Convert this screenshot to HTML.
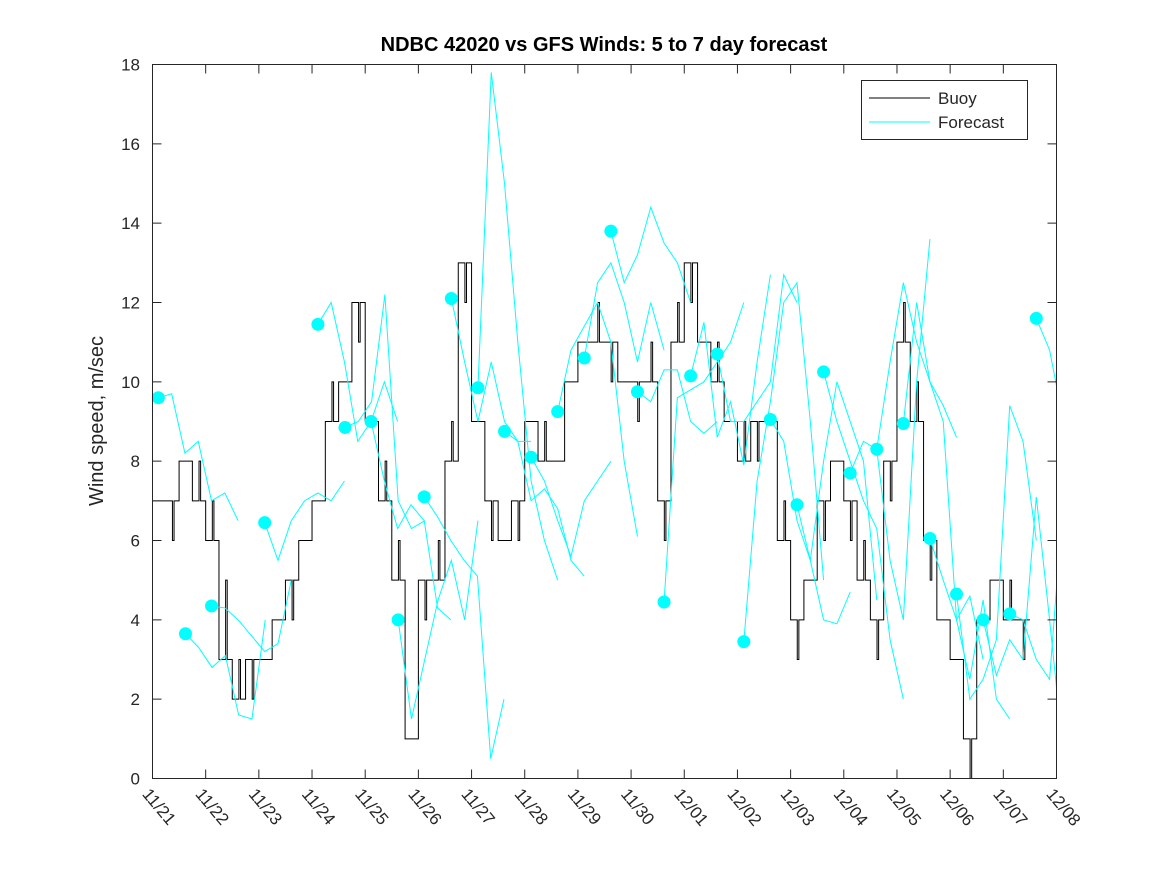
<!DOCTYPE html>
<html><head><meta charset="utf-8"><style>
body{margin:0;background:#fff;}
svg text{font-family:"Liberation Sans","DejaVu Sans",sans-serif;fill:#262626;}
</style></head><body>
<svg id="chart" width="1167" height="875" xmlns="http://www.w3.org/2000/svg">
<rect width="1167" height="875" fill="#fff"/>
<text x="604" y="51" text-anchor="middle" font-size="20" font-weight="bold" style="fill:#000">NDBC 42020 vs GFS Winds: 5 to 7 day forecast</text>
<text transform="translate(103,421) rotate(-90)" text-anchor="middle" font-size="20">Wind speed, m/sec</text>
<g id="series"></g>
<rect x="152.5" y="64.5" width="904" height="714" fill="none" stroke="#262626" stroke-width="1"/>
<g id="axes"></g>
<g>
<rect x="861.5" y="80.5" width="166" height="59" fill="#fff" stroke="#262626"/>
<line x1="869" y1="98" x2="930" y2="98" stroke="#000"/>
<text x="938" y="104" font-size="17">Buoy</text>
<line x1="869" y1="122" x2="930" y2="122" stroke="#00ffff"/>
<text x="938" y="128" font-size="17">Forecast</text>
</g>
</svg>
<script>
const xTickLabels=["11/21","11/22","11/23","11/24","11/25","11/26","11/27","11/28","11/29","11/30","12/01","12/02","12/03","12/04","12/05","12/06","12/07","12/08"];
const yTicks=[0,2,4,6,8,10,12,14,16,18];
const buoyStep=0.25;
const buoyValues=[7,7,8,7,6,3,2,3,3,4,5,6,7,9,10,12,9,7,5,1,5,5,8,13,9,7,6,7,9,8,8,10,11,11,11,10,10,10,7,11,13,11,10,9,8,9,9,6,4,5,7,8,7,5,4,8,11,9,6,4,3,1,4,5,4,4];
const buoyNoise=[7,6,8,8,7,5,3,2,3,4,4,6,7,10,10,11,9,8,6,1,4,6,9,12,9,6,6,6,9,9,8,10,11,12,10,10,9,11,6,12,12,11,11,9,9,8,9,7,3,5,6,8,6,6,3,7,12,10,5,4,3,0,4,5,5,3];
const fcStarts=[0.11,0.62,1.11,2.11,3.11,3.62,4.11,4.62,5.11,5.62,6.12,6.62,7.12,7.62,8.12,8.62,9.12,9.62,10.12,10.62,11.12,11.62,12.12,12.62,13.12,13.62,14.12,14.62,15.12,15.62,16.12,16.62];
const fcStep=0.25;
const fcValues=[
[9.6,9.7,8.2,8.5,7,7.2,6.5],
[3.65,3.3,2.8,3.1,1.6,1.5,4],
[4.35,4.3,4,3.6,3.2,3.4,5],
[6.45,5.5,6.5,7,7.2,7.0,7.5],
[11.45,12,10.5,8.5,9,10,9],
[8.85,9,9.5,12.2,7,6.3,6.5],
[9.0,7.5,6.3,6.9,6.5,4.3,4.0],
[4.0,1.5,3,4.5,5.5,4.0,6.5],
[7.1,6.6,6,5.5,5.1,0.5,2],
[12.1,10.5,9,10.5,9,8.5,8.5],
[9.85,17.8,15,11,7.5,6,5],
[8.75,8.5,7,7.3,6.8,5.5,5.1],
[8.1,7.5,6.5,5.6,7,7.5,8],
[9.25,10.8,11.4,12,11,8,6.1],
[10.6,12.5,13,12,10.5,12,10.8],
[13.8,12.5,13.2,14.4,13.5,13.0,12],
[9.75,9.5,10.3,10.3,9,8.7,9],
[4.45,9.6,9.8,10,10.5,11,12],
[10.15,11.5,8.6,9.5,7.9,10.5,12.7],
[10.7,9,9,9.5,10,12.7,12],
[3.45,7.5,9.5,12,12.5,9,5],
[9.05,8.5,6.5,5.5,4,3.9,4.7],
[6.9,5.5,8,10,9,8,4.5],
[10.25,9,8,7,6.3,3.5,2],
[7.7,8.5,8.3,5.5,4,10,13.6],
[8.3,10.5,12.5,11,10,9.4,8.6],
[8.95,12,10,9,4,4.6,3],
[6.05,5,4,2.5,4.5,2,1.5],
[4.65,2,2.5,3.5,9.4,8.5,6],
[4.0,2.6,3.5,3.0,7.1,4,2.3],
[4.15,4,3,2.5,4.8,5.3,5.4],
[11.6,10.8,9.9,11.8]
];
const X0=152.5,X1=1056.5,Y0=778.5,Y1=64.5,NS="http://www.w3.org/2000/svg";
const xs=d=>X0+d*(X1-X0)/17;
const ys=v=>Y0-v*(Y0-Y1)/18;
function mk(t,a,p){const e=document.createElementNS(NS,t);for(const k in a)e.setAttribute(k,a[k]);p.appendChild(e);return e;}
const axes=document.getElementById('axes'),ser=document.getElementById('series');
yTicks.forEach(v=>{
 const l=mk('path',{d:`M${X0},${ys(v)}h9M${X1},${ys(v)}h-9`,stroke:'#262626'},axes);
 
 
 const t=mk('text',{x:140,y:ys(v)+6,'text-anchor':'end','font-size':17},axes);
 t.textContent=v;
 
 
});
xTickLabels.forEach((s,i)=>{
 const x=xs(i);
 const l=mk('path',{d:`M${x},${Y0}v-9M${x},${Y1}v9`,stroke:'#262626'},axes);
 
 
 const t=mk('text',{transform:`translate(${x-11},${Y0+16}) rotate(50)`,'font-size':17},axes);
 t.textContent=s;
 
 
});
let d='';
buoyValues.forEach((v,i)=>{
 const a=i*buoyStep,b=a+buoyStep/2;
 const n=buoyNoise[i];
 d+=(i?'L':'M')+xs(a)+','+ys(v)+'H'+xs(b)+'V'+ys(n)+'H'+xs(b+0.03)+'V'+ys(v)+'H'+xs(a+buoyStep);
});
const bl=mk('path',{d:d,fill:'none',stroke:'#000','stroke-width':1},ser);


fcValues.forEach((vals,k)=>{
 const s=fcStarts[k];
 const pts=vals.map((v,j)=>[Math.min(xs(s+j*fcStep),X1),ys(v)]);
 const p=mk('polyline',{points:pts.map(q=>q.join(',')).join(' '),fill:'none',stroke:'#00ffff','stroke-width':1},ser);
 
 
});
fcValues.forEach((vals,k)=>{
 const c=mk('circle',{cx:xs(fcStarts[k]),cy:ys(vals[0]),r:6.5,fill:'#00ffff'},ser);
 
 
});
</script>
</body></html>
